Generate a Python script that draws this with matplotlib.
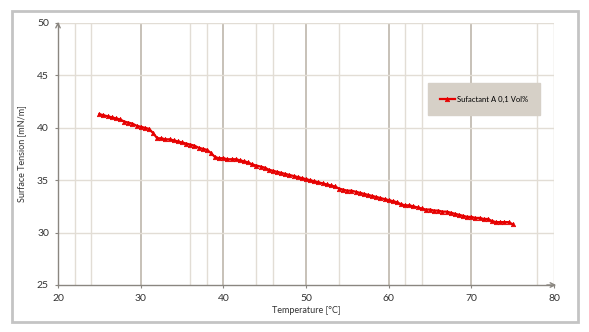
import numpy as np
import matplotlib.pyplot as plt
from matplotlib.patches import Rectangle

# surface tension vs temperature (step 0.5 degC)
temp = [25.0 + 0.5 * i for i in range(101)]
tension = [
    41.3, 41.2, 41.1, 41.0, 40.9, 40.8, 40.6, 40.5, 40.4, 40.2,
    40.1, 40.0, 39.9, 39.5, 39.0, 39.0, 38.9, 38.9, 38.8, 38.7,
    38.6, 38.5, 38.4, 38.3, 38.1, 38.0, 37.9, 37.6, 37.2, 37.1,
    37.1, 37.0, 37.0, 37.0, 36.9, 36.8, 36.7, 36.5, 36.4, 36.3,
    36.2, 36.0, 35.9, 35.8, 35.7, 35.6, 35.5, 35.4, 35.3, 35.2,
    35.1, 35.0, 34.9, 34.8, 34.7, 34.6, 34.5, 34.4, 34.2, 34.1,
    34.0, 34.0, 33.9, 33.8, 33.7, 33.6, 33.5, 33.4, 33.3, 33.2,
    33.1, 33.0, 32.9, 32.7, 32.6, 32.6, 32.5, 32.4, 32.3, 32.2,
    32.2, 32.1, 32.1, 32.0, 32.0, 31.9, 31.8, 31.7, 31.6, 31.5,
    31.5, 31.4, 31.4, 31.3, 31.3, 31.1, 31.0, 31.0, 31.0, 31.0,
    30.8,
]
series_label = 'Sufactant A 0,1 Vol%'

x_ticks = [20, 30, 40, 50, 60, 70, 80]
y_ticks = [25, 30, 35, 40, 45, 50]
x_minor_grid = [22, 24, 36, 38, 44, 46, 54, 62, 64, 78]

plt.rcParams['font.family'] = ['Lato', 'DejaVu Sans']

fig = plt.figure(figsize=(5.89, 3.32), dpi=100)
fig.patch.set_facecolor('white')

# outer frame of the screenshot
fig.patches.append(Rectangle((12 / 589, 1 - 322 / 332), 566 / 589, 311 / 332,
                             transform=fig.transFigure, fill=False,
                             edgecolor='#c4c4c4', linewidth=2))

ax = fig.add_axes([58 / 589, 1 - 285 / 332, 496 / 589, 262 / 332])
ax.set_xlim(20, 80)
ax.set_ylim(25, 50)

# grid
for xv in x_minor_grid:
    ax.axvline(xv, color='#e2ddd5', linewidth=1, zorder=0)
for xv in x_ticks[1:-1]:
    ax.axvline(xv, color='#bdb6ab', linewidth=1.2, zorder=0)
ax.axvline(x_ticks[-1], color='#d8d2c8', linewidth=1, zorder=0)
for yv in y_ticks[1:]:
    ax.axhline(yv, color='#e2ddd5', linewidth=1, zorder=0)

ax.plot(temp, tension, color='#e60000', linewidth=1.6, marker='^',
        markersize=3.2, markeredgewidth=0.5, label=series_label, zorder=3)

for s in ['top', 'right']:
    ax.spines[s].set_visible(False)
for s in ['left', 'bottom']:
    ax.spines[s].set_color('#8a8680')
    ax.spines[s].set_linewidth(1)

# arrow heads on the axes
ax.annotate('', xy=(0, 1.015), xytext=(0, 0.98), xycoords='axes fraction',
            arrowprops=dict(arrowstyle='->', color='#8a8680', lw=1,
                            mutation_scale=8), annotation_clip=False)
ax.annotate('', xy=(1.01, 0), xytext=(0.98, 0), xycoords='axes fraction',
            arrowprops=dict(arrowstyle='->', color='#8a8680', lw=1,
                            mutation_scale=8), annotation_clip=False)

ax.set_xticks(x_ticks)
ax.set_yticks(y_ticks)
ax.tick_params(axis='both', length=2.5, width=0.8, color='#8a8680',
               labelsize=7.5, labelcolor='#333333', pad=4)
ax.set_xlabel('Temperature [°C]', fontsize=6.5, color='#333333', labelpad=2)
ax.set_ylabel('Surface Tension [mN/m]', fontsize=6.5, color='#333333', labelpad=8)

leg = ax.legend(loc='upper left', bbox_to_anchor=(0.745, 0.77), fontsize=5.5,
                frameon=True, fancybox=False, handlelength=2.0,
                handletextpad=0.2, borderpad=1.6, borderaxespad=0)
leg.get_frame().set_facecolor('#d6d0c7')
leg.get_frame().set_edgecolor('#d6d0c7')
leg.get_frame().set_alpha(1)

fig.savefig('out.png', dpi=100)
